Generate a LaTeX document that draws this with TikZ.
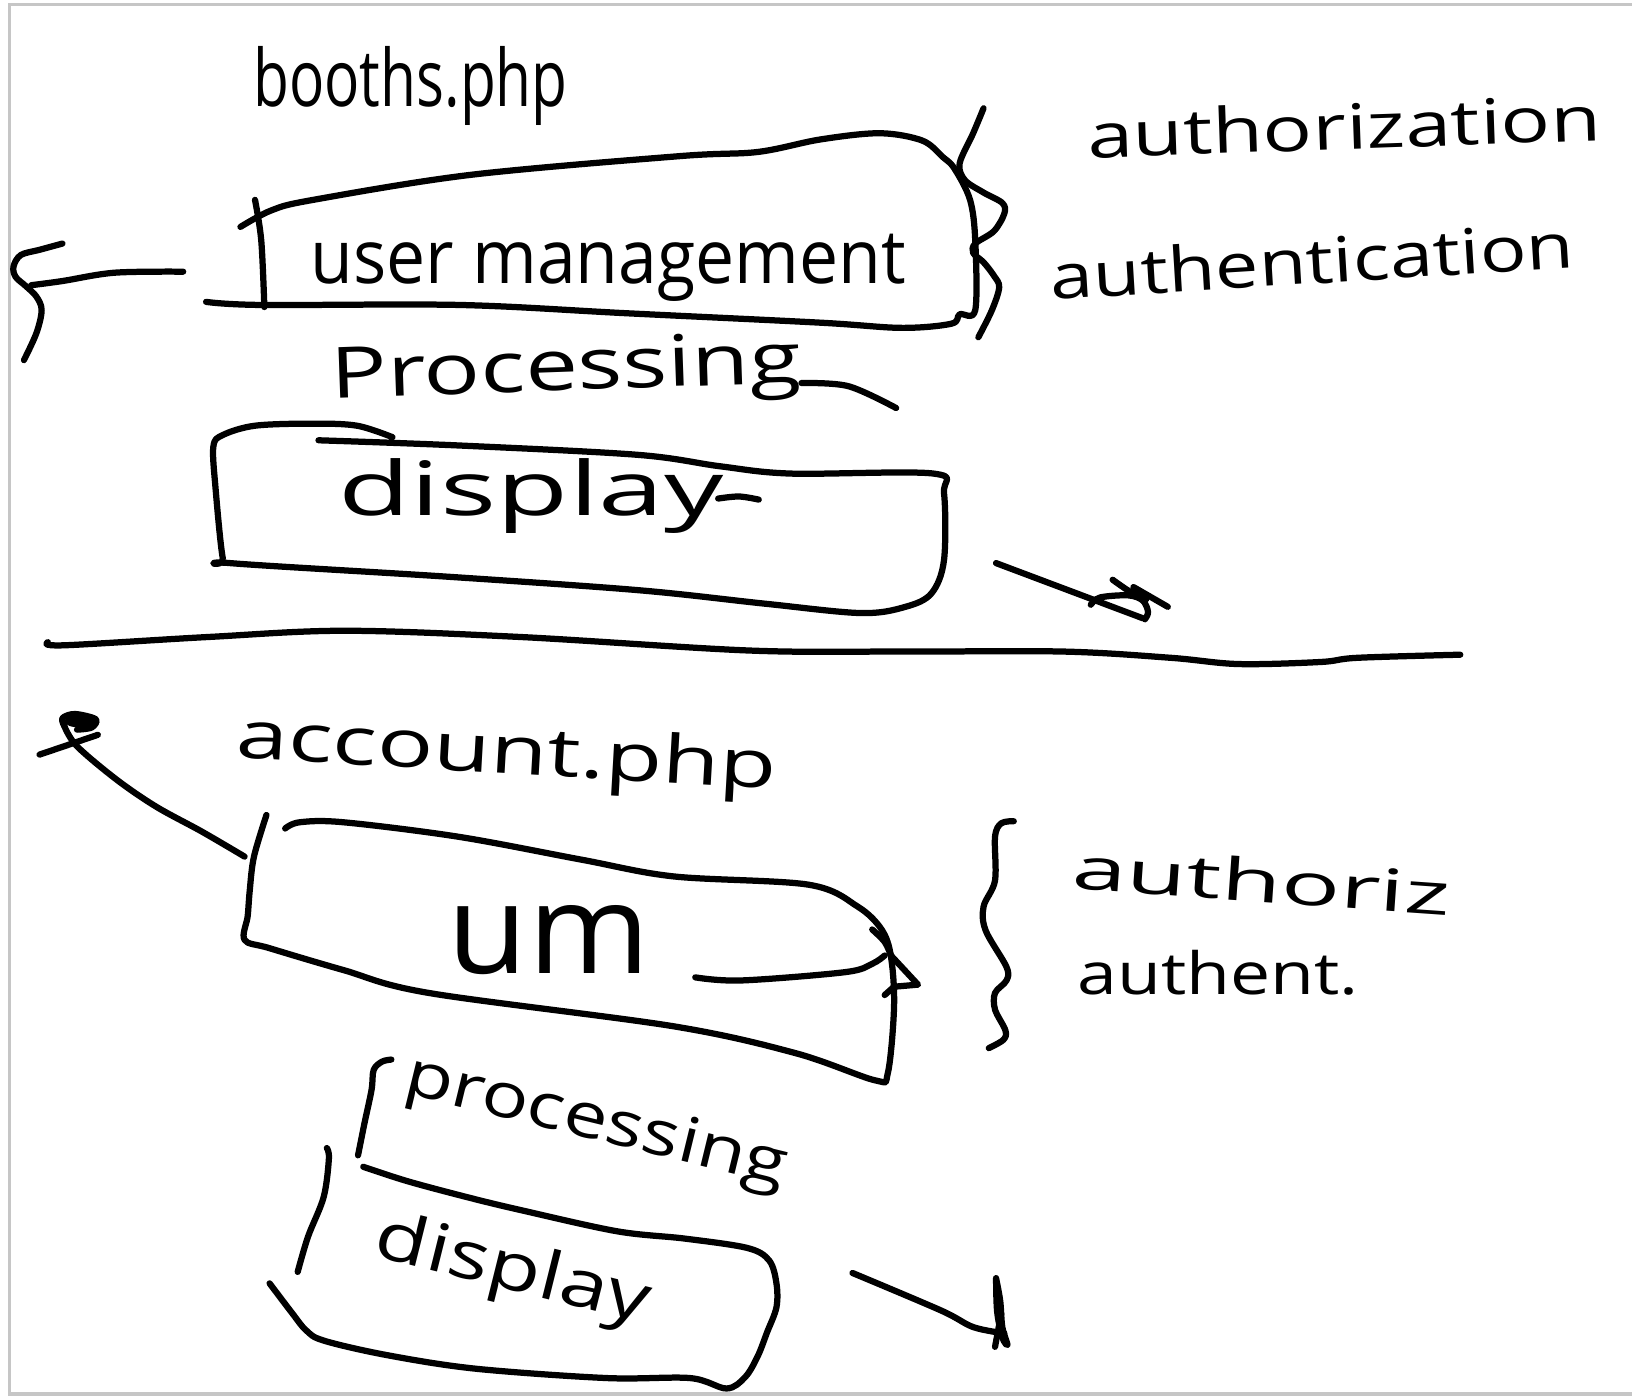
\documentclass[tikz,border=0pt]{standalone}
\usepackage{fontspec}
\setmainfont{Open Sans}
\usepackage{graphicx}
\newcommand\hwtxt[3]{\resizebox{#1}{\height}{\fontsize{#2}{#2}\selectfont #3}}
\definecolor{framegray}{RGB}{198,198,198}
\begin{document}
\begin{tikzpicture}[x=0.5pt,y=-0.5pt,
  ink/.style={line width=3pt,line cap=round,line join=round,black},
  txt/.style={inner sep=0pt,anchor=base west},
  sm/.style={smooth,tension=0.55}]
\useasboundingbox (0,0) rectangle (1568,1341);
\fill[white] (0,0) rectangle (1568,1341);
\draw[framegray,line width=1.6pt] (1568,4.5) -- (9,4.5) -- (9,1339.3) -- (1568,1339.3);

% ---------- top page: booths.php ----------
\node[txt] (booths) at (243,102) {\hwtxt{151pt}{38pt}{booths.php}};

% user management box
\draw[ink] plot[sm] coordinates {(245,192) (251,231) (254,295)};
\draw[ink] plot[sm] coordinates {(231,218) (261,202) (301,192) (452,168) (653,150) (728,146) (788,134) (845,128) (886,135) (906,151) (917,162) (932,192) (937,231) (937,298) (922,302) (914,311) (866,315) (788,310) (603,301) (442,293) (251,293) (198,290)};
\node[txt] (um1) at (298,272) {\hwtxt{286pt}{36pt}{user management}};

% brace 1
\draw[ink] plot[sm] coordinates {(945,104) (935,128) (922,157) (927,173) (945,185) (963,195) (965,205) (955,222) (937,234) (935,243) (945,252) (955,265) (960,276) (953,298) (940,324)};
\node[txt,rotate=2] (authz1) at (1045,152) {\hwtxt{247pt}{30pt}{authorization}};
\node[txt,rotate=3.5] (authn1) at (1010,288) {\hwtxt{252pt}{30pt}{authentication}};

% arrow to the left
\coordinate (la0) at (176,261);
\coordinate (la1) at (30,274);
\draw[ink] plot[sm] coordinates {(la0) (110,262) (60,270) (la1)};
\draw[ink] plot[sm] coordinates {(60,234) (38,240) (20,245) (13,256) (15,266) (25,275) (35,285) (40,298) (35,320) (23,346)};

% processing
\node[txt,rotate=2] (proc1) at (318,383) {\hwtxt{226pt}{34pt}{Processing}};
\draw[ink] plot[sm] coordinates {(770,368) (815,371) (861,392)};

% display box
\draw[ink] plot[sm] coordinates {(306,423) (441,428) (613,437) (692,448) (760,455) (897,455) (907,474) (907,538) (895,570) (870,583) (827,589) (735,580) (613,567) (429,554) (221,541) (214,536) (207,468) (205,429) (214,418) (245,409) (300,407) (343,409) (377,420)};
\node[txt] (disp1) at (325,495) {\hwtxt{185pt}{36pt}{display}};
\draw[ink] plot[sm] coordinates {(690,479) (710,477) (729,480)};

% arrow to the right
\coordinate (ra0) at (957,541);
\coordinate (ra1) at (1098,594);
\draw[ink] (ra0) -- (ra1);
\draw[ink] plot[sm] coordinates {(1048,581) (1057,574) (1084,572) (1098,577) (1103,588) (1100,595)};
\draw[ink] plot[sm] coordinates {(1069,557) (1085,568) (1101,576)};
\draw[ink] (1089,564) -- (1122,583);

% separator
\draw[ink] plot[sm] coordinates {(46,617) (61,620) (200,612) (331,606) (500,612) (720,625) (865,626) (1022,626) (1125,632) (1190,638) (1269,636) (1304,632) (1403,629)};

% ---------- bottom page: account.php ----------
% arrow up-left
\coordinate (ua0) at (235,823);
\coordinate (ua1) at (62,698);
\draw[ink] plot[sm] coordinates {(ua0) (194,799) (150,775) (112,749) (74,717) (ua1)};
\draw[ink] (38,725) -- (94,706);
\fill[black] (77,693) ellipse [x radius=15, y radius=6];
\draw[ink] plot[sm] coordinates {(62,698) (60,690) (72,686) (92,691) (88,699) (74,701)};

\node[txt,rotate=-3.3] (acct) at (226,728) {\hwtxt{260pt}{32pt}{account.php}};

% um box
\draw[ink] plot[sm] coordinates {(256,783) (244,823) (240,855) (238,880) (235,903) (259,911) (330,932) (412,954) (647,986) (765,1012) (841,1038) (853,1031) (859,967) (856,919) (847,893) (824,871) (777,850) (647,842) (559,826) (441,804) (330,790) (288,790) (274,796)};
\node[txt] (um2) at (430,935) {\hwtxt{97pt}{60pt}{um}};

% arrow out of um
\coordinate (ma0) at (668,939);
\coordinate (ma1) at (850,918);
\draw[ink] plot[sm] coordinates {(ma0) (712,942) (812,934) (838,926) (ma1)};
\draw[ink] plot[sm] coordinates {(838,893) (850,905) (856,918)};
\draw[ink] (856,918) -- (882,946) -- (859,948) -- (850,956);

% brace 2
\draw[ink] plot[sm] coordinates {(974,789) (962,791) (956,804) (956,846) (945,871) (947,894) (967,929) (967,942) (956,954) (956,970) (966,990) (964,999) (950,1007)};
\node[txt,rotate=-4] (authz2) at (1029,854) {\hwtxt{182pt}{28pt}{authoriz}};
\node[txt] (authn2) at (1035,955) {\hwtxt{135pt}{28pt}{authent.}};

% processing / display boxes
\draw[ink] plot[sm] coordinates {(344,1110) (350,1080) (357,1047) (359,1028) (367,1020) (376,1018)};
\node[txt,rotate=-13.7] (proc2) at (386,1050) {\hwtxt{188pt}{30pt}{processing}};
\draw[ink] plot[sm] coordinates {(349,1121) (392,1135) (452,1151) (502,1163) (593,1183) (658,1190) (718,1199) (739,1211) (746,1233) (746,1256) (737,1280) (728,1303) (716,1323) (698,1334) (663,1324) (583,1324) (457,1315) (372,1302) (311,1288) (294,1278) (281,1262) (259,1233)};
\draw[ink] plot[sm] coordinates {(314,1103) (316,1113) (311,1150) (296,1188) (286,1222)};
\node[txt,rotate=-14] (disp2) at (357,1206) {\hwtxt{135pt}{32pt}{display}};

% arrow bottom right
\coordinate (ba0) at (819,1223);
\coordinate (ba1) at (965,1281);
\draw[ink] plot[sm] coordinates {(ba0) (904,1259) (935,1275) (ba1)};
\draw[ink] plot[sm] coordinates {(957,1228) (961,1250) (963,1275) (968,1292) (963,1285) (958,1260) (957,1228)};
\draw[ink] (956,1294) -- (962,1262);
\end{tikzpicture}
\end{document}
